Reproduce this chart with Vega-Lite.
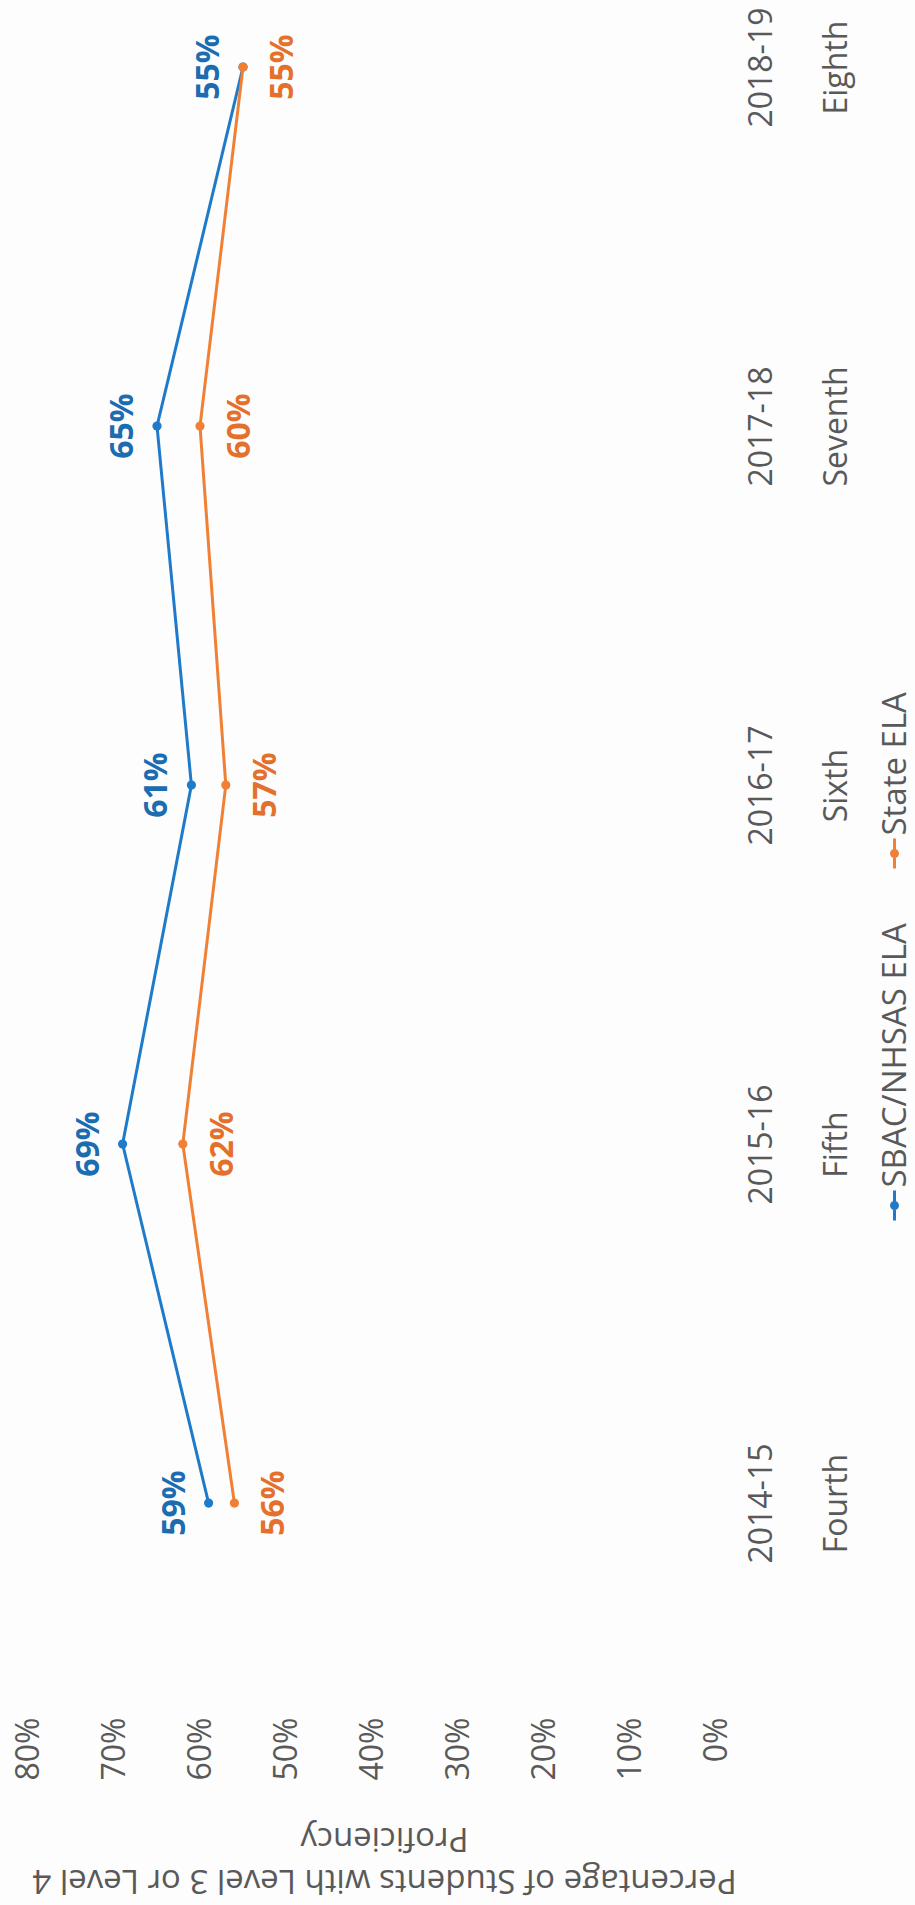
{
  "$schema": "https://vega.github.io/schema/vega-lite/v6.json",
  "width": 688,
  "height": 1700,
  "autosize": {"type": "none"},
  "padding": {"left": 28, "top": 0, "right": 199, "bottom": 205},
  "background": "#fdfdfd",
  "config": {
    "view": {"stroke": null},
    "font": "Open Sans",
    "legend": {
      "orient": "none",
      "direction": "vertical",
      "title": null,
      "padding": 0,
      "symbolType": "M0,-1L0,1M0.2,0A0.2,0.2,0,1,1,-0.2,0A0.2,0.2,0,1,1,0.2,0M0.07,0A0.07,0.07,0,1,1,-0.07,0A0.07,0.07,0,1,1,0.07,0",
      "symbolSize": 900,
      "symbolStrokeWidth": 3,
      "labelFontSize": 33,
      "labelColor": "#595959",
      "labelOffset": -15,
      "labelAlign": "left",
      "labelBaseline": "middle",
      "labelLimit": 0
    }
  },
  "data": {
    "values": [
      {"period": "2014-15|Fourth", "series": "SBAC/NHSAS ELA", "value": 0.59},
      {"period": "2015-16|Fifth", "series": "SBAC/NHSAS ELA", "value": 0.69},
      {"period": "2016-17|Sixth", "series": "SBAC/NHSAS ELA", "value": 0.61},
      {"period": "2017-18|Seventh", "series": "SBAC/NHSAS ELA", "value": 0.65},
      {"period": "2018-19|Eighth", "series": "SBAC/NHSAS ELA", "value": 0.55},
      {"period": "2014-15|Fourth", "series": "State ELA", "value": 0.56},
      {"period": "2015-16|Fifth", "series": "State ELA", "value": 0.62},
      {"period": "2016-17|Sixth", "series": "State ELA", "value": 0.57},
      {"period": "2017-18|Seventh", "series": "State ELA", "value": 0.60},
      {"period": "2018-19|Eighth", "series": "State ELA", "value": 0.55}
    ]
  },
  "encoding": {
    "y": {
      "field": "period",
      "type": "ordinal",
      "sort": ["2018-19|Eighth", "2017-18|Seventh", "2016-17|Sixth", "2015-16|Fifth", "2014-15|Fourth"],
      "scale": {"type": "point", "padding": 0.3677, "align": 0.254},
      "axis": {
        "orient": "right",
        "title": null,
        "domain": false,
        "ticks": false,
        "grid": false,
        "labelExpr": "split(datum.value, '|')",
        "labelAngle": 270,
        "labelAlign": "center",
        "labelBaseline": "top",
        "labelPadding": 30,
        "labelLineHeight": 75,
        "labelFontSize": 32,
        "labelColor": "#595959",
        "labelLimit": 0
      }
    },
    "x": {
      "field": "value",
      "type": "quantitative",
      "scale": {"domain": [0, 0.8], "reverse": true, "nice": false},
      "axis": {
        "orient": "bottom",
        "values": [0, 0.1, 0.2, 0.3, 0.4, 0.5, 0.6, 0.7, 0.8],
        "format": ".0%",
        "domain": false,
        "ticks": false,
        "grid": false,
        "labelAngle": 270,
        "labelAlign": "right",
        "labelBaseline": "middle",
        "labelPadding": 17,
        "labelFontSize": 32,
        "labelColor": "#595959",
        "title": ["Percentage of Students with Level 3 or Level 4", "Proficiency"],
        "titleAngle": 180,
        "titleBaseline": "top",
        "titleAlign": "center",
        "titleX": 356,
        "titleY": 195,
        "titleLineHeight": 42,
        "titleFontSize": 33,
        "titleFontWeight": "normal",
        "titleColor": "#595959"
      }
    }
  },
  "layer": [
    {
      "transform": [{"filter": "datum.series === 'SBAC/NHSAS ELA'"}],
      "mark": {"type": "line", "strokeWidth": 3, "point": {"filled": true, "size": 85}},
      "encoding": {
        "color": {
          "field": "series",
          "type": "nominal",
          "scale": {"domain": ["SBAC/NHSAS ELA"], "range": ["#1f7bc9"]},
          "legend": {
            "legendX": 850,
            "legendY": 1189,
            "encoding": {"labels": {"angle": {"value": 270}, "dx": {"value": 18}}}
          }
        }
      }
    },
    {
      "transform": [{"filter": "datum.series === 'State ELA'"}],
      "mark": {"type": "line", "strokeWidth": 3, "point": {"filled": true, "size": 85}},
      "encoding": {
        "color": {
          "field": "series",
          "type": "nominal",
          "scale": {"domain": ["State ELA"], "range": ["#f08035"]},
          "legend": {
            "legendX": 850,
            "legendY": 837,
            "encoding": {"labels": {"angle": {"value": 270}, "dx": {"value": 18}}}
          }
        }
      }
    },
    {
      "transform": [{"filter": "datum.series === 'SBAC/NHSAS ELA'"}],
      "mark": {"type": "text", "angle": 270, "align": "center", "baseline": "alphabetic", "dy": -24, "fontSize": 32, "fontWeight": "bold", "color": "#1b6cb0"},
      "encoding": {"text": {"field": "value", "type": "quantitative", "format": ".0%"}}
    },
    {
      "transform": [{"filter": "datum.series === 'State ELA'"}],
      "mark": {"type": "text", "angle": 270, "align": "center", "baseline": "top", "dy": 25, "fontSize": 32, "fontWeight": "bold", "color": "#e5702c"},
      "encoding": {"text": {"field": "value", "type": "quantitative", "format": ".0%"}}
    }
  ],
  "resolve": {"scale": {"color": "independent"}}
}
